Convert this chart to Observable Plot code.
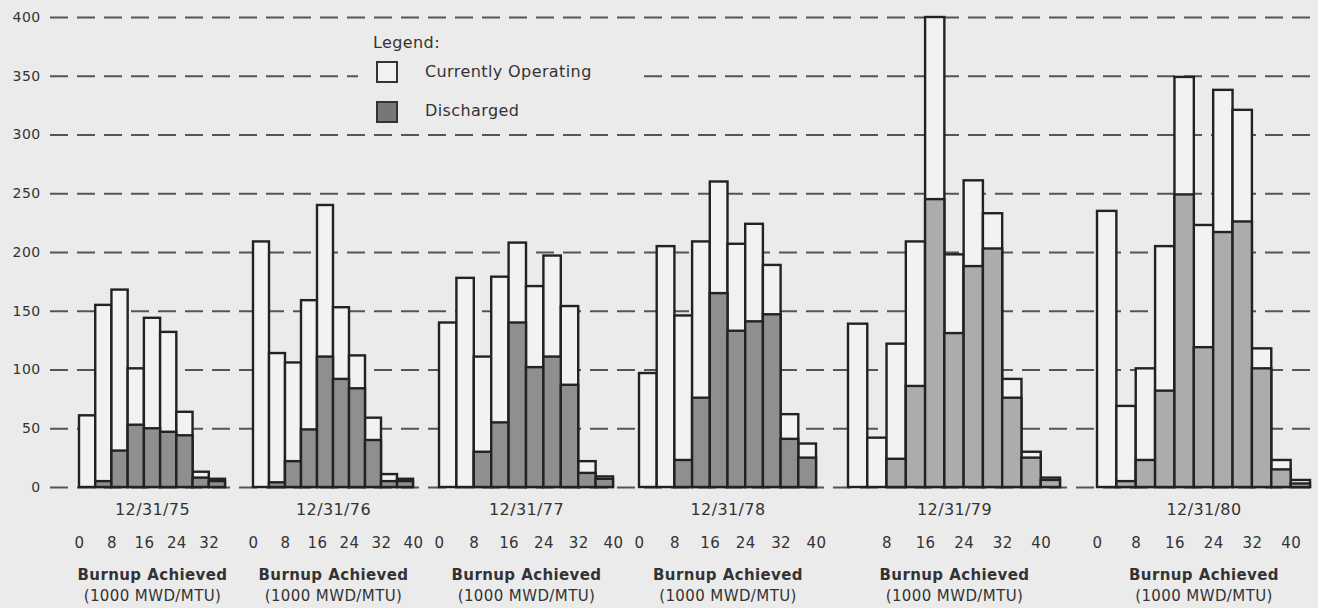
<!DOCTYPE html>
<html>
<head>
<meta charset="utf-8">
<script src="https://cdn.jsdelivr.net/npm/d3@7"></script>
<script src="https://cdn.jsdelivr.net/npm/@observablehq/plot@0.6"></script>
<style>
  html, body { margin: 0; padding: 0; background: #ebebeb; }
  #wrap { position: relative; width: 1318px; height: 608px; overflow: hidden; }
  #legend { position: absolute; left: 358px; top: 30px; width: 284px; height: 94px; background: #ebebeb;
            font-family: "DejaVu Sans", sans-serif; color: #333; font-size: 16px; letter-spacing: 0.4px; }
  #legend .t { position: absolute; line-height: 20px; white-space: nowrap; }
  #legend .box { position: absolute; width: 18px; height: 18px; border: 2px solid #333; }
</style>
</head>
<body>
<div id="wrap">
  <div id="chart"></div>
  <div id="legend">
    <div class="t" style="left:15px; top:3px;">Legend:</div>
    <div class="box" style="left:18px; top:31px; background:#f1f1f1;"></div>
    <div class="t" style="left:67px; top:32px;">Currently Operating</div>
    <div class="box" style="left:18px; top:71px; background:#777;"></div>
    <div class="t" style="left:67px; top:71px;">Discharged</div>
  </div>
</div>
<script>
// ---- data ----
const groupLabels = ["12/31/75", "12/31/76", "12/31/77", "12/31/78", "12/31/79", "12/31/80"];
const binWidth = 4; // 1000 MWD/MTU per bar

// total assemblies (currently operating + discharged) per burnup bin
const total75 = [61, 155, 168, 101, 144, 132, 64, 13, 7];
const total76 = [209, 114, 106, 159, 240, 153, 112, 59, 11, 7];
const total77 = [140, 178, 111, 179, 208, 171, 197, 154, 22, 9];
const total78 = [97, 205, 146, 209, 260, 207, 224, 189, 62, 37];
const total79 = [139, 42, 122, 209, 400, 198, 261, 233, 92, 30, 8];
const total80 = [235, 69, 101, 205, 349, 223, 338, 321, 118, 23, 6];

// discharged part of each bar
const disch75 = [0, 5, 31, 53, 50, 47, 44, 8, 5];
const disch76 = [0, 4, 22, 49, 111, 92, 84, 40, 5, 5];
const disch77 = [0, 0, 30, 55, 140, 102, 111, 87, 12, 7];
const disch78 = [0, 0, 23, 76, 165, 133, 141, 147, 41, 25];
const disch79 = [0, 0, 24, 86, 245, 131, 188, 203, 76, 25, 6];
const disch80 = [0, 5, 23, 82, 249, 119, 217, 226, 101, 15, 3];

// x tick labels shown under each group
const ticks75 = [0, 8, 16, 24, 32];
const ticks76 = [0, 8, 16, 24, 32, 40];
const ticks77 = [0, 8, 16, 24, 32, 40];
const ticks78 = [0, 8, 16, 24, 32, 40];
const ticks79 = [8, 16, 24, 32, 40];
const ticks80 = [0, 8, 16, 24, 32, 40];

const yTicks = [0, 50, 100, 150, 200, 250, 300, 350, 400];
const axisTitle = "Burnup Achieved";
const axisUnit = "(1000 MWD/MTU)";

// ---- layout: each small group gets its own stretch of the shared (piecewise) x scale ----
const groupStart = [0, 38.5, 81.5, 127, 176, 232.5];
const groupPixels = [[79, 225], [253, 413], [439, 613], [639, 816], [848, 1060], [1097, 1310]];

const totals = [total75, total76, total77, total78, total79, total80];
const discharges = [disch75, disch76, disch77, disch78, disch79, disch80];
const tickSets = [ticks75, ticks76, ticks77, ticks78, ticks79, ticks80];

const xDomain = [-6], xRange = [50];
totals.forEach((tot, g) => {
  xDomain.push(groupStart[g], groupStart[g] + tot.length * binWidth);
  xRange.push(groupPixels[g][0], groupPixels[g][1]);
});
xDomain.push(groupStart[5] + totals[5].length * binWidth + 4);
xRange.push(1318);

const bars = [];
totals.forEach((tot, g) => {
  tot.forEach((t, i) => {
    const b = i * binWidth;
    bars.push({ g, x1: groupStart[g] + b, x2: groupStart[g] + b + binWidth, total: t, discharged: discharges[g][i] });
  });
});
const groups = groupLabels.map((label, g) => ({
  label, center: groupStart[g] + totals[g].length * binWidth / 2
}));
const tickRows = tickSets.flatMap((ts, g) => ts.map(k => ({ x: groupStart[g] + k, label: String(k) })));

const dischDark = bars.filter(d => d.discharged > 0 && d.g < 4);
const dischLight = bars.filter(d => d.discharged > 0 && d.g >= 4);

const barStyle = { stroke: "#222", strokeWidth: 2.4 };

const chart = Plot.plot({
  width: 1318,
  height: 608,
  marginLeft: 50,
  marginRight: 0,
  marginTop: 17,
  marginBottom: 121,
  style: { background: "transparent", fontFamily: "DejaVu Sans, sans-serif", color: "#333", letterSpacing: "0.4px" },
  x: { type: "linear", domain: xDomain, range: xRange, axis: null },
  y: { domain: [0, 400], axis: null },
  marks: [
    Plot.ruleY(yTicks, { stroke: "#555", strokeWidth: 2, strokeDasharray: "18,9" }),
    Plot.axisY({ ticks: yTicks, tickSize: 0, tickPadding: 10, fontSize: 14, fill: "#333" }),
    Plot.rect(bars, { x1: "x1", x2: "x2", y1: 0, y2: "total", fill: "#f2f2f2", ...barStyle }),
    Plot.rect(dischDark, { x1: "x1", x2: "x2", y1: 0, y2: "discharged", fill: "#8f8f8f", ...barStyle }),
    Plot.rect(dischLight, { x1: "x1", x2: "x2", y1: 0, y2: "discharged", fill: "#acacac", ...barStyle }),
    Plot.text(groups, { x: "center", y: 0, text: "label", dy: 22, fontSize: 16, fill: "#333" }),
    Plot.text(tickRows, { x: "x", y: 0, text: "label", dy: 56, fontSize: 15, fill: "#333" }),
    Plot.text(groups, { x: "center", y: 0, text: () => axisTitle, dy: 88, fontSize: 15, fontWeight: "bold", fill: "#333" }),
    Plot.text(groups, { x: "center", y: 0, text: () => axisUnit, dy: 109, fontSize: 15, fill: "#333" })
  ]
});
document.getElementById("chart").appendChild(chart);
</script>
</body>
</html>
